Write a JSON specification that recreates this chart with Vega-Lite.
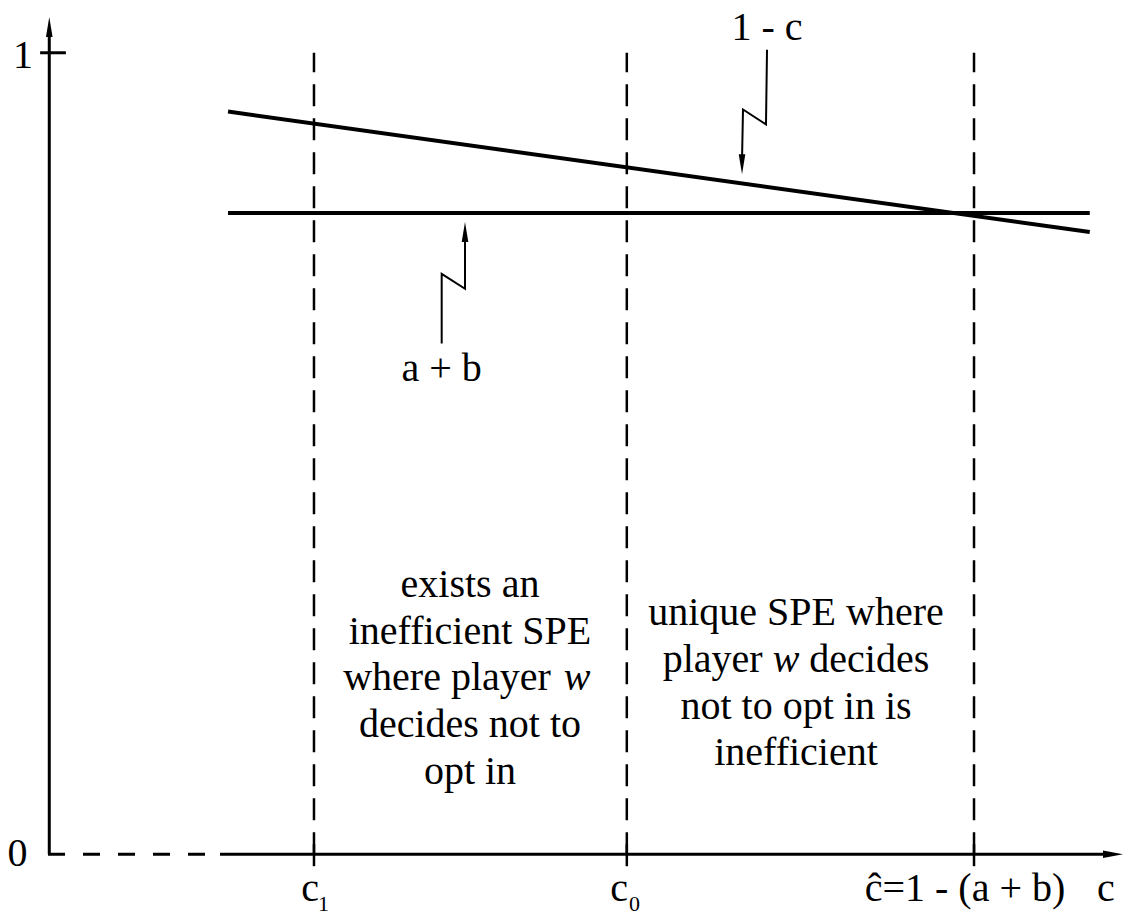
{
  "$schema": "https://vega.github.io/schema/vega-lite/v6.json",
  "width": 1127,
  "height": 916,
  "autosize": {"type": "fit", "contains": "padding"},
  "padding": 0,
  "background": "white",
  "config": {
    "view": {"stroke": null},
    "text": {"font": "Liberation Serif", "fontSize": 40, "color": "black", "baseline": "alphabetic", "align": "center"}
  },
  "datasets": {
    "vlines": [
      {"name": "c1", "c": 0.0848},
      {"name": "c0", "c": 0.1394},
      {"name": "chat", "c": 0.2}
    ],
    "axes": [
      {"part": "x axis", "c": 0.0684, "c2": 0.2237, "v": 0, "v2": 0},
      {"part": "y axis", "c": 0.0386, "c2": 0.0386, "v": 0, "v2": 1.0286},
      {"part": "y tick 1", "c": 0.037, "c2": 0.0415, "v": 1, "v2": 1}
    ],
    "axisbreak": [
      {"part": "x axis break", "c": 0.03838, "c2": 0.0684, "v": 0, "v2": 0}
    ],
    "curves": [
      {"series": "1 - c", "c": 0.0698, "v": 0.9267},
      {"series": "1 - c", "c": 0.2202, "v": 0.7764},
      {"series": "a + b", "c": 0.0698, "v": 0.8},
      {"series": "a + b", "c": 0.2202, "v": 0.8}
    ],
    "pointers": [
      {"series": "1 - c", "ord": 1, "c": 0.16387, "v": 1.00373},
      {"series": "1 - c", "ord": 2, "c": 0.16369, "v": 0.91056},
      {"series": "1 - c", "ord": 3, "c": 0.15968, "v": 0.92919},
      {"series": "1 - c", "ord": 4, "c": 0.15951, "v": 0.86708},
      {"series": "a + b", "ord": 1, "c": 0.10709, "v": 0.63727},
      {"series": "a + b", "ord": 2, "c": 0.10709, "v": 0.72422},
      {"series": "a + b", "ord": 3, "c": 0.11116, "v": 0.70559},
      {"series": "a + b", "ord": 4, "c": 0.11116, "v": 0.7677}
    ],
    "heads": [
      {"dir": "up", "c": 0.0386, "v": 1.0323},
      {"dir": "right", "c": 0.22426, "v": 0},
      {"dir": "down", "c": 0.15951, "v": 0.86087},
      {"dir": "up", "c": 0.11116, "v": 0.7764}
    ],
    "texts": [
      {"label": "1 - c", "c": 0.16387, "v": 1.01615},
      {"label": "a + b", "c": 0.10709, "v": 0.59006},
      {"label": "exists an", "c": 0.11203, "v": 0.3205},
      {"label": "inefficient SPE", "c": 0.11203, "v": 0.26211},
      {"label": "where player", "c": 0.10802, "v": 0.20497},
      {"label": "decides not to", "c": 0.11203, "v": 0.14658},
      {"label": "opt in", "c": 0.11203, "v": 0.0882},
      {"label": "unique SPE where", "c": 0.16893, "v": 0.28571},
      {"label": "player", "c": 0.15439, "v": 0.22733},
      {"label": "decides", "c": 0.18172, "v": 0.22733},
      {"label": "not to opt in is", "c": 0.16893, "v": 0.16894},
      {"label": "inefficient", "c": 0.16893, "v": 0.1118},
      {"label": "1", "c": 0.03401, "v": 0.98137},
      {"label": "0", "c": 0.03305, "v": -0.01491},
      {"label": "c", "c": 0.08411, "v": -0.05839},
      {"label": "c", "c": 0.13804, "v": -0.05839},
      {"label": "ĉ=1 - (a + b)", "c": 0.19843, "v": -0.05839},
      {"label": "c", "c": 0.22303, "v": -0.05839}
    ],
    "italics": [
      {"label": "w", "c": 0.13071, "v": 0.20497},
      {"label": "w", "c": 0.16718, "v": 0.22733}
    ],
    "subs": [
      {"label": "1", "c": 0.08646, "v": -0.07081},
      {"label": "0", "c": 0.14074, "v": -0.07081}
    ]
  },
  "layer": [
    {
      "data": {"name": "vlines"},
      "mark": {"type": "rule", "color": "black", "strokeWidth": 2.5, "strokeDash": [22, 12]},
      "encoding": {
        "x": {"field": "c", "type": "quantitative", "scale": {"domain": [0.03, 0.2267], "nice": false, "zero": false}, "axis": null},
        "y": {"datum": 0, "type": "quantitative", "scale": {"domain": [-0.07205, 1.06584], "nice": false, "zero": false}, "axis": null},
        "y2": {"datum": 1.0}
      }
    },
    {
      "data": {"name": "vlines"},
      "mark": {"type": "rule", "color": "black", "strokeWidth": 2.5},
      "encoding": {
        "x": {"field": "c", "type": "quantitative", "scale": {"domain": [0.03, 0.2267], "nice": false, "zero": false}, "axis": null},
        "y": {"datum": 0.0124, "type": "quantitative", "scale": {"domain": [-0.07205, 1.06584], "nice": false, "zero": false}, "axis": null},
        "y2": {"datum": -0.0149}
      }
    },
    {
      "data": {"name": "axes"},
      "mark": {"type": "rule", "color": "black", "strokeWidth": 3},
      "encoding": {
        "x": {"field": "c", "type": "quantitative", "scale": {"domain": [0.03, 0.2267], "nice": false, "zero": false}, "axis": null},
        "x2": {"field": "c2"},
        "y": {"field": "v", "type": "quantitative", "scale": {"domain": [-0.07205, 1.06584], "nice": false, "zero": false}, "axis": null},
        "y2": {"field": "v2"}
      }
    },
    {
      "data": {"name": "axisbreak"},
      "mark": {"type": "rule", "color": "black", "strokeWidth": 3, "strokeDash": [17, 18]},
      "encoding": {
        "x": {"field": "c", "type": "quantitative", "scale": {"domain": [0.03, 0.2267], "nice": false, "zero": false}, "axis": null},
        "x2": {"field": "c2"},
        "y": {"field": "v", "type": "quantitative", "scale": {"domain": [-0.07205, 1.06584], "nice": false, "zero": false}, "axis": null},
        "y2": {"field": "v2"}
      }
    },
    {
      "data": {"name": "curves"},
      "mark": {"type": "line", "color": "black", "strokeWidth": 4},
      "encoding": {
        "x": {"field": "c", "type": "quantitative", "scale": {"domain": [0.03, 0.2267], "nice": false, "zero": false}, "axis": null},
        "y": {"field": "v", "type": "quantitative", "scale": {"domain": [-0.07205, 1.06584], "nice": false, "zero": false}, "axis": null},
        "detail": {"field": "series"}
      }
    },
    {
      "data": {"name": "pointers"},
      "mark": {"type": "line", "color": "black", "strokeWidth": 2},
      "encoding": {
        "x": {"field": "c", "type": "quantitative", "scale": {"domain": [0.03, 0.2267], "nice": false, "zero": false}, "axis": null},
        "y": {"field": "v", "type": "quantitative", "scale": {"domain": [-0.07205, 1.06584], "nice": false, "zero": false}, "axis": null},
        "detail": {"field": "series"},
        "order": {"field": "ord"}
      }
    },
    {
      "data": {"name": "heads"},
      "mark": {"type": "point", "filled": true, "color": "black", "opacity": 1, "size": 400, "strokeWidth": 0},
      "encoding": {
        "x": {"field": "c", "type": "quantitative", "scale": {"domain": [0.03, 0.2267], "nice": false, "zero": false}, "axis": null},
        "y": {"field": "v", "type": "quantitative", "scale": {"domain": [-0.07205, 1.06584], "nice": false, "zero": false}, "axis": null},
        "shape": {
          "field": "dir",
          "type": "nominal",
          "scale": {
            "domain": ["up", "down", "right"],
            "range": ["M0,-1L0.33,1L-0.33,1Z", "M0,1L0.33,-1L-0.33,-1Z", "M1,0L-1,-0.38L-1,0.38Z"]
          },
          "legend": null
        }
      }
    },
    {
      "data": {"name": "texts"},
      "mark": {"type": "text"},
      "encoding": {
        "x": {"field": "c", "type": "quantitative", "scale": {"domain": [0.03, 0.2267], "nice": false, "zero": false}, "axis": null},
        "y": {"field": "v", "type": "quantitative", "scale": {"domain": [-0.07205, 1.06584], "nice": false, "zero": false}, "axis": null},
        "text": {"field": "label"}
      }
    },
    {
      "data": {"name": "italics"},
      "mark": {"type": "text", "fontStyle": "italic"},
      "encoding": {
        "x": {"field": "c", "type": "quantitative", "scale": {"domain": [0.03, 0.2267], "nice": false, "zero": false}, "axis": null},
        "y": {"field": "v", "type": "quantitative", "scale": {"domain": [-0.07205, 1.06584], "nice": false, "zero": false}, "axis": null},
        "text": {"field": "label"}
      }
    },
    {
      "data": {"name": "subs"},
      "mark": {"type": "text", "fontSize": 22},
      "encoding": {
        "x": {"field": "c", "type": "quantitative", "scale": {"domain": [0.03, 0.2267], "nice": false, "zero": false}, "axis": null},
        "y": {"field": "v", "type": "quantitative", "scale": {"domain": [-0.07205, 1.06584], "nice": false, "zero": false}, "axis": null},
        "text": {"field": "label"}
      }
    }
  ]
}
